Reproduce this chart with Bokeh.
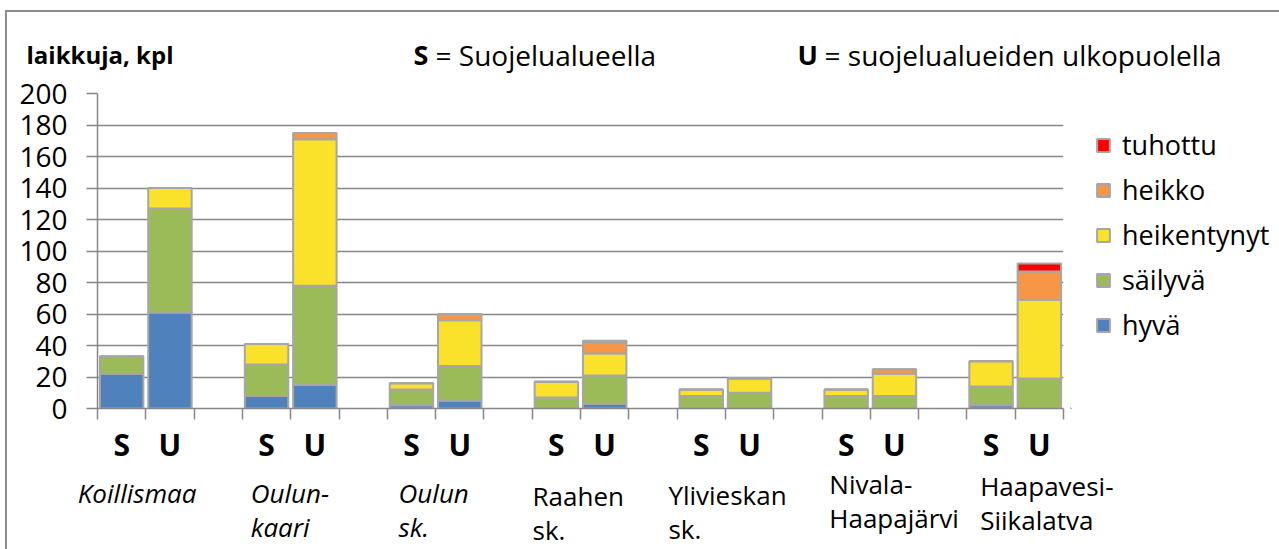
from bokeh.plotting import figure
from bokeh.layouts import column, row
from bokeh.models import (Range1d, FixedTicker, ColumnDataSource, Legend, LegendItem)
from bokeh.core.properties import value
from bokeh.embed import file_html
from bokeh.resources import INLINE

# ---------------- data ----------------
groups = ["Koillismaa", "Oulunkaari", "Oulun sk.", "Raahen sk.", "Ylivieskan sk.",
          "Nivala-Haapajärvi", "Haapavesi-Siikalatva"]
sides = ["S", "U"]
group_label_line1 = ["Koillismaa", "Oulun-", "Oulun", "Raahen", "Ylivieskan", "Nivala-", "Haapavesi-"]
group_label_line2 = ["", "kaari", "sk.", "sk.", "sk.", "Haapajärvi", "Siikalatva"]
group_label_italic = [True, True, True, False, False, False, False]

series_names = ["hyvä", "säilyvä", "heikentynyt", "heikko", "tuhottu"]
# order of bars: for each group S then U
hyva        = [22, 61,  8, 15,  2,  5,  0,  3,  0,  0,  0,  0,  2,  0]
sailyva     = [11, 66, 20, 63, 10, 22,  7, 18,  8, 10,  8,  8, 12, 19]
heikentynyt = [ 0, 13, 13, 93,  4, 29, 10, 14,  4,  9,  4, 14, 16, 50]
heikko      = [ 0,  0,  0,  4,  0,  4,  0,  7,  0,  0,  0,  3,  0, 18]
tuhottu     = [ 0,  0,  0,  0,  0,  0,  0,  1,  0,  0,  0,  0,  0,  5]
y_ticks = [0, 20, 40, 60, 80, 100, 120, 140, 160, 180, 200]

y_title = "laikkuja, kpl"
note_s = ("S", "= Suojelualueella")
note_u = ("U", "= suojelualueiden ulkopuolella")

# ---------------- style / layout ----------------
FONT = "Open Sans"
GRID = "#878787"
OUTLINE = "#a6a6a6"
BORDER = "#8c8c8c"
COLORS = ["#4f81bd", "#9bbb59", "#fae22a", "#f79646", "#ff0000"]
PAGE_W, PAGE_H = 1279, 549
HEAD_H = 75                 # header strip
MAIN_W, MAIN_BOTTOM = 1070, 467
FRAME_L, FRAME_R, FRAME_T, FRAME_B = 97, 1063, 93, 410
HEAD_BASE = 54              # text anchor line of the header texts
name_baseline = [492, 492, 492, 495, 494, 483, 485]
name_line_gap = 34
name_dx = [-68, -40, -37, -48, -57, -41, -35]
SLOTS_PER_GROUP = len(sides) + 1        # S, U and an empty gap slot

bar_x = [i * SLOTS_PER_GROUP + j + 0.5 for i in range(len(groups)) for j in range(len(sides))]
bar_side = [s for _ in groups for s in sides]
group_x = [i * SLOTS_PER_GROUP + len(sides) / 2 for i in range(len(groups))]
n_slots = len(groups) * SLOTS_PER_GROUP - 1


def bare(fig):
    fig.outline_line_color = None
    fig.background_fill_color = None
    fig.border_fill_color = None
    return fig


# ---------------- header strip (titles) ----------------
head = bare(figure(width=PAGE_W, height=HEAD_H, x_range=Range1d(0, PAGE_W), y_range=Range1d(HEAD_H, 0),
                   output_backend="svg", toolbar_location=None, x_axis_location=None,
                   y_axis_location=None, min_border=0))
head.xgrid.visible = False
head.ygrid.visible = False
head.text(x=[26], y=[HEAD_BASE - 0.5], text=[y_title], text_font=value(FONT), text_font_size="24px",
          text_font_style="bold", text_color="black", text_baseline="alphabetic", text_align="left")
head.text(x=[413, 797], y=[HEAD_BASE, HEAD_BASE], text=[note_s[0], note_u[0]], text_font=value(FONT),
          text_font_size="27px", text_font_style="bold", text_color="black",
          text_baseline="alphabetic", text_align="left")
head.text(x=[435, 824], y=[HEAD_BASE, HEAD_BASE], text=[note_s[1], note_u[1]], text_font=value(FONT),
          text_font_size="28px", text_color="black",
          text_baseline="alphabetic", text_align="left")

# ---------------- main chart ----------------
main_h = MAIN_BOTTOM - HEAD_H
p = bare(figure(x_range=Range1d(0, n_slots), y_range=Range1d(0, 200), width=MAIN_W, height=main_h,
                output_backend="svg", toolbar_location=None,
                min_border_left=FRAME_L, min_border_right=MAIN_W - FRAME_R,
                min_border_top=FRAME_T - HEAD_H, min_border_bottom=MAIN_BOTTOM - FRAME_B))
p.xgrid.grid_line_color = None

ya = p.yaxis[0]
ya.ticker = FixedTicker(ticks=y_ticks)
ya.major_label_text_font = FONT
ya.major_label_text_font_size = "28px"
ya.major_label_text_color = "black"
ya.axis_line_color = GRID
ya.axis_line_width = 1.5
ya.major_tick_line_color = GRID
ya.major_tick_line_width = 1.5
ya.major_tick_out = 11
ya.major_tick_in = 0
ya.minor_tick_line_color = None
ya.major_label_standoff = 19
p.ygrid.grid_line_color = GRID
p.ygrid.grid_line_width = 1.5
p.ygrid.ticker = FixedTicker(ticks=y_ticks)

xa = p.xaxis[0]
xa.ticker = FixedTicker(ticks=bar_x, minor_ticks=list(range(n_slots + 1)))
xa.major_label_overrides = {bx: s for bx, s in zip(bar_x, bar_side)}
xa.major_label_text_font = FONT
xa.major_label_text_font_size = "30px"
xa.major_label_text_font_style = "bold"
xa.major_label_text_color = "black"
xa.major_tick_line_color = None
xa.minor_tick_line_color = GRID
xa.minor_tick_line_width = 1.5
xa.minor_tick_out = 11
xa.minor_tick_in = 0
xa.axis_line_color = GRID
xa.axis_line_width = 1.5
xa.major_label_standoff = 4

keys = ["hyva", "sailyva", "heikentynyt", "heikko", "tuhottu"]
src = ColumnDataSource(dict(x=bar_x, hyva=hyva, sailyva=sailyva, heikentynyt=heikentynyt,
                            heikko=heikko, tuhottu=tuhottu))
p.vbar_stack(stackers=keys, x="x", width=0.9, fill_color=COLORS,
             line_color=OUTLINE, line_width=2, source=src)

# ---------------- legend panel ----------------
leg_w = PAGE_W - MAIN_W
lf = bare(figure(width=leg_w, height=main_h, x_range=Range1d(0, 1), y_range=Range1d(0, 1),
                 output_backend="svg", toolbar_location=None, x_axis_location=None,
                 y_axis_location=None, min_border=0))
lf.xgrid.visible = False
lf.ygrid.visible = False
# swatch-only renderers (their single bar lies outside the visible range)
dummies = [lf.vbar(x=[-5], top=[-5], bottom=[-6], width=0.9, fill_color=c,
                   line_color=OUTLINE, line_width=2) for c in COLORS]
items = [LegendItem(label=series_names[i], renderers=[dummies[i]], index=0)
         for i in reversed(range(len(series_names)))]
legend = Legend(items=items, location=(25, 68 - (470 - MAIN_BOTTOM)), orientation="vertical",
                glyph_width=16, glyph_height=16, label_height=20, label_standoff=11,
                spacing=8, padding=0, margin=0,
                label_text_font=FONT, label_text_font_size="27px", label_text_color="black",
                border_line_color=None, background_fill_alpha=0)
lf.add_layout(legend)

# ---------------- group names under the axis ----------------
foot_h = PAGE_H - MAIN_BOTTOM
slot_px = (FRAME_R - FRAME_L) / n_slots
foot = bare(figure(width=PAGE_W, height=foot_h,
                   x_range=Range1d(-FRAME_L / slot_px, (PAGE_W - FRAME_L) / slot_px),
                   y_range=Range1d(foot_h, 0),
                   output_backend="svg", toolbar_location=None, x_axis_location=None,
                   y_axis_location=None, min_border=0))
foot.xgrid.visible = False
foot.ygrid.visible = False
styles = ["italic" if it else "normal" for it in group_label_italic]
for lines, extra in ((group_label_line1, 0), (group_label_line2, name_line_gap)):
    s = ColumnDataSource(dict(x=group_x, text=lines, style=styles, dx=name_dx,
                              y=[b + extra - MAIN_BOTTOM for b in name_baseline]))
    foot.text(x="x", y="y", text="text", x_offset="dx", text_font_style="style", source=s,
              text_font=value(FONT), text_font_size="26px", text_color="black",
              text_baseline="alphabetic", text_align="left")

layout = column(head, row(p, lf), foot, styles={
    "background-color": "white",
    "background-image": f"linear-gradient({BORDER},{BORDER}), linear-gradient({BORDER},{BORDER})",
    "background-size": "1273px 2px, 2px 539px",
    "background-position": "6px 10px, 5px 10px",
    "background-repeat": "no-repeat",
})

open("out.html", "w").write(file_html(layout, INLINE))
